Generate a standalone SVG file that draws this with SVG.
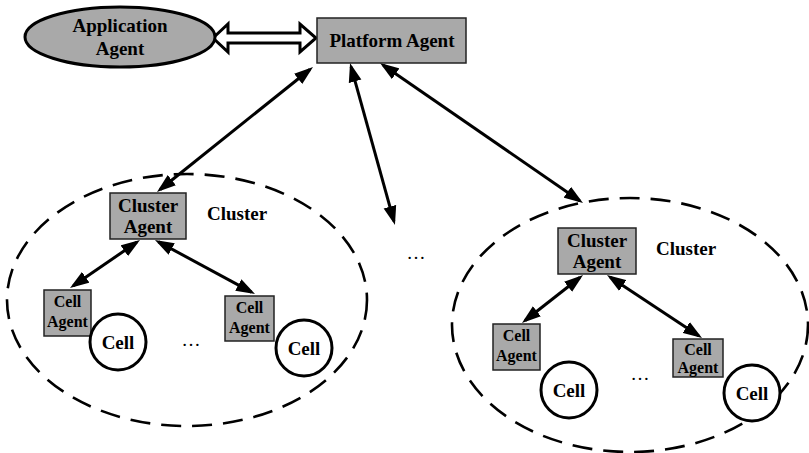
<svg xmlns="http://www.w3.org/2000/svg" width="809" height="453" viewBox="0 0 809 453">
  <style>
    .box { fill: #a9a9a9; stroke: #222; stroke-width: 1.5; }
    .app { fill: #a9a9a9; stroke: #000; stroke-width: 3; }
    .cell { fill: #fff; stroke: #000; stroke-width: 3; }
    .region { fill: none; stroke: #000; stroke-width: 2.6; stroke-dasharray: 20 11; }
    .link { stroke: #000; stroke-width: 3; fill: none; marker-start: url(#head); marker-end: url(#head); }
    .hollow { fill: #fff; stroke: #000; stroke-width: 3; stroke-linejoin: miter; }
    text { font-family: "Liberation Serif", "Times New Roman", serif; font-weight: bold; fill: #000; text-anchor: middle; }
    .big { font-size: 19px; }
    .small { font-size: 16px; }
    .dots { font-size: 19px; font-weight: normal; }
  </style>
  <defs>
    <marker id="head" markerUnits="userSpaceOnUse" markerWidth="20" markerHeight="14" refX="15" refY="6.5" orient="auto-start-reverse" viewBox="0 0 20 13">
      <path d="M0,0 L19,6.5 L0,13 z" fill="#000"/>
    </marker>
  </defs>

  <!-- cluster boundaries -->
  <g id="cluster-left">
    <ellipse class="region" cx="187" cy="300" rx="180" ry="126"/>
    <text class="big" x="237" y="220">Cluster</text>
  </g>
  <g id="cluster-right">
    <ellipse class="region" cx="630" cy="325" rx="178" ry="127"/>
    <text class="big" x="686" y="255">Cluster</text>
  </g>

  <!-- connectors -->
  <g id="connectors">
    <polygon class="hollow" points="213,38 228,24 228,33 300,33 300,24 316,38 300,52 300,43 228,43 228,52"/>
    <line class="link" x1="309.9" y1="69.5" x2="160.1" y2="189.5"/>
    <line class="link" x1="351.1" y1="66.9" x2="393.9" y2="221.1"/>
    <line class="link" x1="383.3" y1="65.3" x2="579.7" y2="200.7"/>
    <line class="link" x1="136.7" y1="242.3" x2="73.3" y2="285.7"/>
    <line class="link" x1="158.5" y1="241.9" x2="251.5" y2="292.1"/>
    <line class="link" x1="579.9" y1="277.5" x2="525.1" y2="320.5"/>
    <line class="link" x1="610.3" y1="277.2" x2="698.7" y2="335.8"/>
  </g>

  <!-- top level agents -->
  <g id="application-agent">
    <ellipse class="app" cx="120" cy="37" rx="95" ry="30"/>
    <text class="big" x="120" y="32">Application</text>
    <text class="big" x="120" y="55">Agent</text>
  </g>
  <g id="platform-agent">
    <rect class="box" x="317" y="18" width="149" height="45"/>
    <text class="big" x="392" y="47">Platform Agent</text>
  </g>

  <!-- left cluster -->
  <g id="cluster-agent-left">
    <rect class="box" x="110" y="193" width="76" height="46"/>
    <text class="big" x="148" y="212">Cluster</text>
    <text class="big" x="148" y="233">Agent</text>
  </g>
  <g id="cell-agent-left-1">
    <rect class="box" x="44" y="290" width="47" height="46"/>
    <text class="small" x="67.5" y="307">Cell</text>
    <text class="small" x="67.5" y="327">Agent</text>
  </g>
  <g id="cell-left-1">
    <circle class="cell" cx="118" cy="342" r="28"/>
    <text class="big" x="118" y="349">Cell</text>
  </g>
  <text class="dots" x="191" y="346">…</text>
  <g id="cell-agent-left-2">
    <rect class="box" x="225" y="296" width="49" height="45"/>
    <text class="small" x="249.5" y="313">Cell</text>
    <text class="small" x="249.5" y="333">Agent</text>
  </g>
  <g id="cell-left-2">
    <circle class="cell" cx="304" cy="348" r="28"/>
    <text class="big" x="304" y="355">Cell</text>
  </g>

  <text class="dots" x="416" y="259">…</text>

  <!-- right cluster -->
  <g id="cluster-agent-right">
    <rect class="box" x="558" y="228" width="78" height="46"/>
    <text class="big" x="597" y="247">Cluster</text>
    <text class="big" x="597" y="268">Agent</text>
  </g>
  <g id="cell-agent-right-1">
    <rect class="box" x="493" y="324" width="47" height="46"/>
    <text class="small" x="516.5" y="341">Cell</text>
    <text class="small" x="516.5" y="361">Agent</text>
  </g>
  <g id="cell-right-1">
    <circle class="cell" cx="569" cy="390" r="28"/>
    <text class="big" x="569" y="397">Cell</text>
  </g>
  <text class="dots" x="640" y="380">…</text>
  <g id="cell-agent-right-2">
    <rect class="box" x="673" y="339" width="50" height="38"/>
    <text class="small" x="698" y="355">Cell</text>
    <text class="small" x="698" y="373">Agent</text>
  </g>
  <g id="cell-right-2">
    <circle class="cell" cx="752" cy="393" r="28"/>
    <text class="big" x="752" y="400">Cell</text>
  </g>
</svg>
